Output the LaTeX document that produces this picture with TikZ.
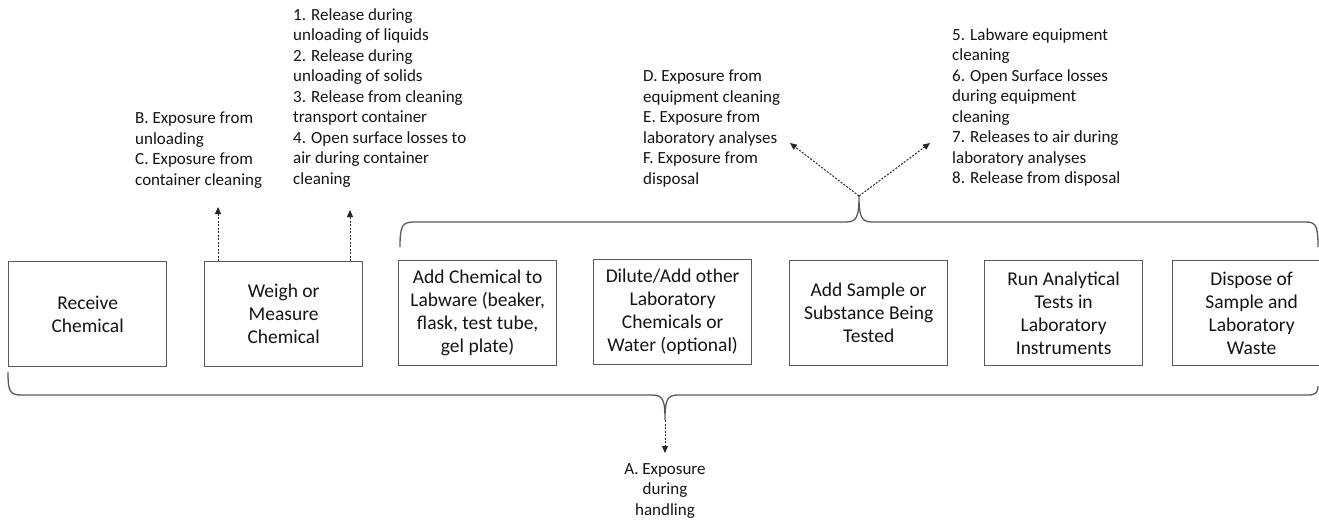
\documentclass[tikz,border=0pt]{standalone}
\usepackage{fontspec}
\setmainfont{Carlito}
\usetikzlibrary{arrows.meta,positioning}
\definecolor{edge}{HTML}{595959}
\definecolor{txt}{HTML}{141414}
\tikzset{stage/.style={draw=edge,line width=1.3pt,align=center,anchor=north west,minimum width=158pt,minimum height=105pt,inner sep=3pt,font=\fontsize{19.5}{23}\selectfont,text=txt}, note/.style={align=left,inner sep=0pt,font=\fontsize{17}{20.5}\selectfont,text=txt}, outarr/.style={-{Triangle[length=7pt,width=6pt]},line width=1pt,dash pattern=on 2pt off 1.5pt,draw=black!85}, brace/.style={draw=edge,line width=1.3pt}}

\begin{document}
\begin{tikzpicture}[x=1pt,y=-1pt]
\useasboundingbox(0,0)rectangle(1319,520);
\node[stage](s1)at(8,261){Receive\\Chemical};\node[stage](s2)at(204,261){Weigh or\\Measure\\Chemical};\node[stage](s3)at(398,260){Add Chemical to\\Labware (beaker,\\flask, test tube,\\gel plate)};
\node[stage](s4)at(593,259){Dilute/Add other\\Laboratory\\Chemicals or\\Water (optional)};\node[stage](s5)at(789,260){Add Sample or\\Substance Being\\Tested};\node[stage](s6)at(984,260){Run Analytical\\Tests in\\Laboratory\\Instruments};
\node[stage](s7)at(1172,260){Dispose of\\Sample and\\Laboratory\\Waste};
% releases and exposures
\node[note,anchor=north west](nb)at(135,112){B. Exposure from\\unloading\\C. Exposure from\\container cleaning};
\node[note,anchor=north west](n1)at(293,8){1. Release during\\unloading of liquids\\2. Release during\\unloading of solids\\3. Release from cleaning\\transport container\\4. Open surface losses to\\air during container\\cleaning};
\node[note,anchor=north west](nd)at(643,70){D. Exposure from\\equipment cleaning\\E. Exposure from\\laboratory analyses\\F. Exposure from\\disposal};
\node[note,anchor=north west](n5)at(952,28){5. Labware equipment\\cleaning\\6. Open Surface losses\\during equipment\\cleaning\\7. Releases to air during\\laboratory analyses\\8. Release from disposal};
\node[note,align=center,anchor=north](na)at(665,463){A. Exposure\\during\\handling};
% braces
\coordinate(tt)at(859,196);\coordinate(bt)at(665,420);
\draw[brace](400,247)..controls(400,226)and(402,222)..(414,222)--(846,222)..controls(857,222)and(859,216)..(tt)..controls(859,216)and(861,222)..(872,222)--(1306,222)..controls(1316,222)and(1318,226)..(1318,247);
\draw[brace](8,372)..controls(8,392)and(10,395)..(22,395)--(652,395)..controls(663,395)and(665,400)..(bt)..controls(665,400)and(667,395)..(678,395)--(1308,395)..controls(1316,395)and(1318,392)..(1318,386);
% dotted arrows
\coordinate(b1)at(218,207);\coordinate(b2)at(350,210);\coordinate(dl)at(790,143);\coordinate(dr)at(930,143);\coordinate(ba)at(665,453);
\draw[outarr](b1|-s2.north)--(b1);\draw[outarr](b2|-s2.north)--(b2);
\draw[outarr](tt)--(dl);\draw[outarr](tt)--(dr);\draw[outarr](bt)--(ba);
\end{tikzpicture}
\end{document}
